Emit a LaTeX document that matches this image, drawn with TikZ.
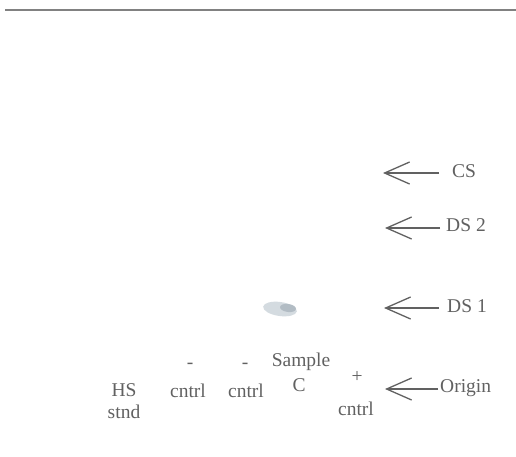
\documentclass[tikz,border=0pt]{standalone}
\usepackage{fontspec}
\setmainfont{Liberation Serif}
\usetikzlibrary{arrows.meta}
\definecolor{ink}{gray}{0.38}
\definecolor{spotc}{RGB}{212,219,224}
\definecolor{spotd}{RGB}{178,188,196}
\begin{document}
\begin{tikzpicture}[x=1pt,y=-1pt,
  lab/.style={text=ink,font=\fontsize{19.5}{21}\selectfont,inner sep=0pt},
  rlab/.style={lab,anchor=base west},
  blab/.style={lab,anchor=base},
  marker/.style={draw=ink,line width=1.3pt,-{Straight Barb[length=25pt,width=22pt,line width=1.3pt]}}]
\useasboundingbox (0,0) rectangle (516,456);
\fill[white] (0,0) rectangle (516,456);
% top edge of plate
\draw[ink!80,line width=1.8pt] (5,10) -- (516,10);
% spot
\fill[spotc,rotate around={-8:(280,309)}] (280,309) ellipse (17 and 7);
\fill[spotd,rotate around={-8:(288,308)}] (288,308) ellipse (8 and 4);
% right-hand labels
\node[rlab] (cs) at (452,177) {CS};
\node[rlab] (ds2) at (446,231) {DS 2};
\node[rlab] (ds1) at (447,312) {DS 1};
\node[rlab] (orig) at (440,392) {Origin};
% arrows
\coordinate (csS) at (439,173);   \coordinate (csT) at (383,173);
\coordinate (ds2S) at (440,228);  \coordinate (ds2T) at (385,228);
\coordinate (ds1S) at (439,308);  \coordinate (ds1T) at (384,308);
\coordinate (orS) at (438,389);   \coordinate (orT) at (385,389);
\draw[marker] (csS) -- (csT);
\draw[marker] (ds2S) -- (ds2T);
\draw[marker] (ds1S) -- (ds1T);
\draw[marker] (orS) -- (orT);
% lane labels
\node[blab] (hs) at (124,396) {HS};
\node[blab] (stnd) at (124,418) {stnd};
\node[lab] (m1) at (190,366) {-};
\node[blab] (c1) at (188,397) {cntrl};
\node[lab] (m2) at (245,366) {-};
\node[blab] (c2) at (246,397) {cntrl};
\node[blab] (samp) at (301,366) {Sample};
\node[blab] (sc) at (299,391) {C};
\node[lab] (plus) at (357,377) {+};
\node[blab] (c3) at (356,415) {cntrl};
\end{tikzpicture}
\end{document}
